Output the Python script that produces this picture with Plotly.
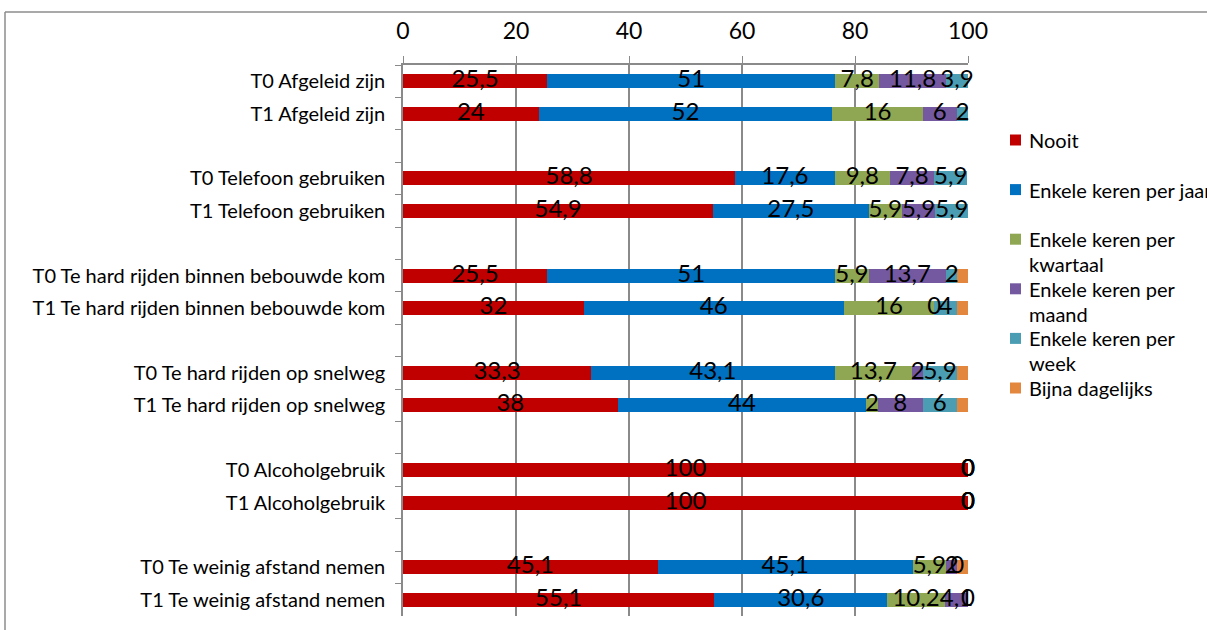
import plotly.graph_objects as go

# Survey rows (T0 / T1 per behaviour), top to bottom
rows = [
    "T0 Afgeleid zijn", "T1 Afgeleid zijn",
    "T0 Telefoon gebruiken", "T1 Telefoon gebruiken",
    "T0 Te hard rijden binnen bebouwde kom", "T1 Te hard rijden binnen bebouwde kom",
    "T0 Te hard rijden op snelweg", "T1 Te hard rijden op snelweg",
    "T0 Alcoholgebruik", "T1 Alcoholgebruik",
    "T0 Te weinig afstand nemen", "T1 Te weinig afstand nemen",
]

# Percentages per frequency answer
nooit = [25.5, 24, 58.8, 54.9, 25.5, 32, 33.3, 38, 100, 100, 45.1, 55.1]
per_jaar = [51, 52, 17.6, 27.5, 51, 46, 43.1, 44, 0, 0, 45.1, 30.6]
per_kwartaal = [7.8, 16, 9.8, 5.9, 5.9, 16, 13.7, 2, 0, 0, 5.9, 10.2]
per_maand = [11.8, 6, 7.8, 5.9, 13.7, 0, 2, 8, 0, 0, 2, 4.1]
per_week = [3.9, 2, 5.9, 5.9, 2, 4, 5.9, 6, 0, 0, 0, 0]
dagelijks = [0, 0, 0, 0, 1.9, 2, 2, 2, 0, 0, 1.9, 0]

series_names = [
    "Nooit",
    "Enkele keren per jaar",
    "Enkele keren per kwartaal",
    "Enkele keren per maand",
    "Enkele keren per week",
    "Bijna dagelijks",
]
legend_text = [
    "Nooit",
    "Enkele keren per jaar",
    "Enkele keren per<br>kwartaal",
    "Enkele keren per<br>maand",
    "Enkele keren per<br>week",
    "Bijna dagelijks",
]
series_values = [nooit, per_jaar, per_kwartaal, per_maand, per_week, dagelijks]
series_colors = ["#C00000", "#0070C0", "#8FA652", "#7459A0", "#4A9DB2", "#E3873F"]
labelled = [True, True, True, True, True, False]

x_ticks = [0, 20, 40, 60, 80, 100]

# Category order with an empty slot between each T0/T1 pair
cat_order = []
for i in range(0, len(rows), 2):
    if i > 0:
        cat_order.append(" " * (i // 2))
    cat_order += [rows[i], rows[i + 1]]

FONT = "Lato"
GRID = "#8a8a8a"

fig = go.Figure()

base = [0.0] * len(rows)
for name, vals, col, lab in zip(series_names, series_values, series_colors, labelled):
    fig.add_trace(go.Bar(
        x=vals, y=rows, orientation="h", name=name,
        marker=dict(color=col, line=dict(width=0)),
        showlegend=False, hoverinfo="x+name",
    ))
    if lab:
        mids = [b + v / 2 for b, v in zip(base, vals)]
        txt = [f"{v:g}".replace(".", ",") for v in vals]
        fig.add_trace(go.Scatter(
            x=mids, y=rows, mode="text", text=txt,
            textposition="middle center",
            textfont=dict(family=FONT, size=24, color="black"),
            showlegend=False, hoverinfo="skip", cliponaxis=False,
        ))
    base = [b + v for b, v in zip(base, vals)]

# Plot-area geometry in pixels (used to place legend and frame)
L, R, T, B = 403, 968, 65, 616
W, H = 1207, 630


def px_x(px):
    return (px - L) / (R - L)


def px_y(py):
    return (B - py) / (B - T)


shapes = []
annotations = []

# Legend: one slot per text line, evenly spaced
line_y0, line_step = 140, 24.8
slot = 0
for i, (txt, col) in enumerate(zip(legend_text, series_colors)):
    if i == 1:
        slot = 2
    elif i == 2:
        slot = 4
    lines = txt.split("<br>")
    yc = line_y0 + line_step * slot
    shapes.append(dict(
        type="rect", xref="paper", yref="paper",
        x0=px_x(1010), x1=px_x(1021), y0=px_y(yc - 5.5), y1=px_y(yc + 5.5),
        fillcolor=col, line=dict(width=0),
    ))
    for k, ln in enumerate(lines):
        annotations.append(dict(
            text=ln, xref="paper", yref="paper",
            x=px_x(1027), y=px_y(yc + line_step * k),
            xanchor="left", yanchor="middle", showarrow=False,
            font=dict(family=FONT, size=20, color="black"),
        ))
    slot += len(lines)

# Outer chart frame (top and left edges visible)
shapes.append(dict(type="line", xref="paper", yref="paper",
                   x0=px_x(5), x1=px_x(1230), y0=px_y(12), y1=px_y(12),
                   line=dict(color="#8c8c8c", width=1.5)))
shapes.append(dict(type="line", xref="paper", yref="paper",
                   x0=px_x(5), x1=px_x(5), y0=px_y(12), y1=px_y(650),
                   line=dict(color="#8c8c8c", width=1.5)))

fig.update_layout(
    width=W, height=H, autosize=False,
    margin=dict(l=L, r=W - R, t=T, b=H - B, pad=0),
    paper_bgcolor="white", plot_bgcolor="white",
    barmode="stack", bargap=0.57,
    font=dict(family=FONT, color="black"),
    shapes=shapes, annotations=annotations,
    xaxis=dict(
        side="top", range=[0, 100], tickvals=x_ticks,
        tickfont=dict(family=FONT, size=23, color="black"),
        showgrid=True, gridcolor=GRID, gridwidth=1.5,
        ticks="outside", ticklen=7, tickcolor=GRID, tickwidth=1,
        ticklabelstandoff=8,
        showline=True, linecolor=GRID, linewidth=1.5,
        zeroline=False, fixedrange=True,
    ),
    yaxis=dict(
        type="category", categoryorder="array", categoryarray=cat_order,
        range=[len(cat_order) - 0.5, -0.5],
        tickfont=dict(family=FONT, size=20, color="black"),
        ticks="outside", tickson="boundaries", ticklen=6, tickcolor=GRID,
        ticklabelstandoff=12,
        showline=True, linecolor=GRID, linewidth=1.5,
        showgrid=False, zeroline=False, fixedrange=True,
    ),
)

fig.write_html("out.html")
